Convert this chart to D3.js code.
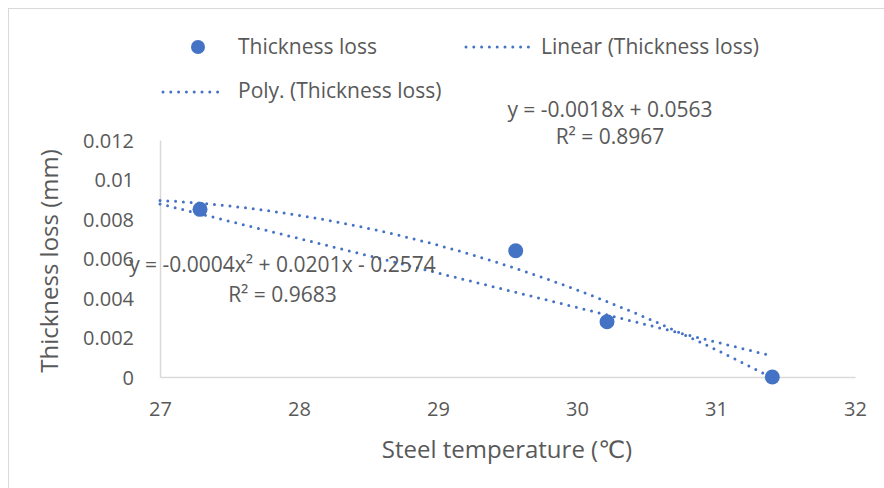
<!DOCTYPE html>
<html>
<head>
  <meta charset="UTF-8">
  <style>
    body {
      margin: 0;
      background-color: #ffffff;
    }
    svg text {
      font-family: "Open Sans", "DejaVu Sans", sans-serif;
      fill: #595959;
    }
  </style>
</head>
<body>
<svg></svg>
<script src="https://d3js.org/d3.v7.min.js"></script>

<script>
// Data
let temps = [27.288, 29.559, 30.216, 31.405];
let loss = [0.00849, 0.006395, 0.0028, 0];

// Trendline coefficients as drawn (constant, x, x^2)
let linearCoef = [0.05593, -0.001747];
let polyCoef = [-0.256443, 0.020035, -0.000378];
let trendRange = [27, 31.405];

let xTicks = [27, 28, 29, 30, 31, 32];
let yTicks = [0, 0.002, 0.004, 0.006, 0.008, 0.01, 0.012];
let yTickLabels = ["0", "0.002", "0.004", "0.006", "0.008", "0.01", "0.012"];

let legendLabels = ["Thickness loss", "Linear (Thickness loss)", "Poly. (Thickness loss)"];
let linearEq = ["y = -0.0018x + 0.0563", "R² = 0.8967"];
let polyEq = ["y = -0.0004x² + 0.0201x - 0.2574", "R² = 0.9683"];

let width = 884, height = 488;
let blue = "#4472C4";

let svg = d3.select("svg")
    .attr("width", width)
    .attr("height", height);

// chart border (runs off the right and bottom edges)
svg.append("rect")
    .attr("x", 8.5).attr("y", 8.5)
    .attr("width", 1000).attr("height", 1000)
    .attr("fill", "none")
    .attr("stroke", "#d9d9d9");

let x = d3.scaleLinear().domain([27, 32]).range([160, 855]);
let y = d3.scaleLinear().domain([0, 0.012]).range([377, 140]);

// Axes
let xAxis = svg.append("g")
    .attr("transform", "translate(0,377)")
    .call(d3.axisBottom(x).tickValues(xTicks).tickSize(0).tickPadding(25).tickFormat(d3.format("d")));
let yAxis = svg.append("g")
    .attr("transform", "translate(160,0)")
    .call(d3.axisLeft(y).tickValues(yTicks).tickSize(0).tickPadding(26).tickFormat((d, i) => yTickLabels[i]));

[xAxis, yAxis].forEach(a => {
  a.select(".domain").attr("stroke", "#d9d9d9").attr("stroke-width", 1.5);
  a.selectAll("text").attr("font-size", 20).attr("font-family", null).attr("fill", null);
});
yAxis.selectAll("text").attr("dy", "0.36em");

// Axis titles
svg.append("text")
    .attr("x", 507).attr("y", 458)
    .attr("text-anchor", "middle")
    .attr("font-size", 24)
    .text("Steel temperature (℃)");

svg.append("text")
    .attr("transform", "translate(58,261) rotate(-90)")
    .attr("text-anchor", "middle")
    .attr("font-size", 24)
    .text("Thickness loss (mm)");

// Trendlines
let line = d3.line().x(d => x(d[0])).y(d => y(d[1]));
let samples = d3.range(0, 61).map(i => trendRange[0] + (trendRange[1] - trendRange[0]) * i / 60);

let dotted = sel => sel
    .attr("fill", "none")
    .attr("stroke", blue)
    .attr("stroke-width", 3)
    .attr("stroke-linecap", "round")
    .attr("stroke-dasharray", "0 7.8");

svg.append("path")
    .datum(samples.map(t => [t, linearCoef[0] + linearCoef[1] * t]))
    .attr("d", line)
    .call(dotted);

svg.append("path")
    .datum(samples.map(t => [t, polyCoef[0] + polyCoef[1] * t + polyCoef[2] * t * t]))
    .attr("d", line)
    .call(dotted);

// Data points
svg.append("g")
    .selectAll("circle")
    .data(temps)
    .enter()
    .append("circle")
    .attr("cx", d => x(d))
    .attr("cy", (d, i) => y(loss[i]))
    .attr("r", 7.5)
    .attr("fill", blue);

// Trendline equations
svg.append("g")
    .selectAll("text")
    .data(linearEq)
    .enter()
    .append("text")
    .attr("x", 610)
    .attr("y", (d, i) => 116.5 + i * 27)
    .attr("text-anchor", "middle")
    .attr("font-size", 21)
    .text(d => d);

svg.append("g")
    .selectAll("text")
    .data(polyEq)
    .enter()
    .append("text")
    .attr("x", 282.5)
    .attr("y", (d, i) => 271.5 + i * 30)
    .attr("text-anchor", "middle")
    .attr("font-size", 21)
    .text(d => d);

// Legend
let legend = svg.append("g").attr("id", "legend");

legend.append("circle")
    .attr("cx", 198).attr("cy", 47)
    .attr("r", 7)
    .attr("fill", blue);

legend.append("line")
    .attr("x1", 466).attr("x2", 531)
    .attr("y1", 47).attr("y2", 47)
    .call(dotted);

legend.append("line")
    .attr("x1", 163).attr("x2", 223)
    .attr("y1", 92).attr("y2", 92)
    .call(dotted);

let legendPos = [[238, 54], [541, 54], [238, 98]];
legend.selectAll("text")
    .data(legendLabels)
    .enter()
    .append("text")
    .attr("x", (d, i) => legendPos[i][0])
    .attr("y", (d, i) => legendPos[i][1])
    .attr("font-size", 21)
    .text(d => d);
</script>
</body>
</html>
